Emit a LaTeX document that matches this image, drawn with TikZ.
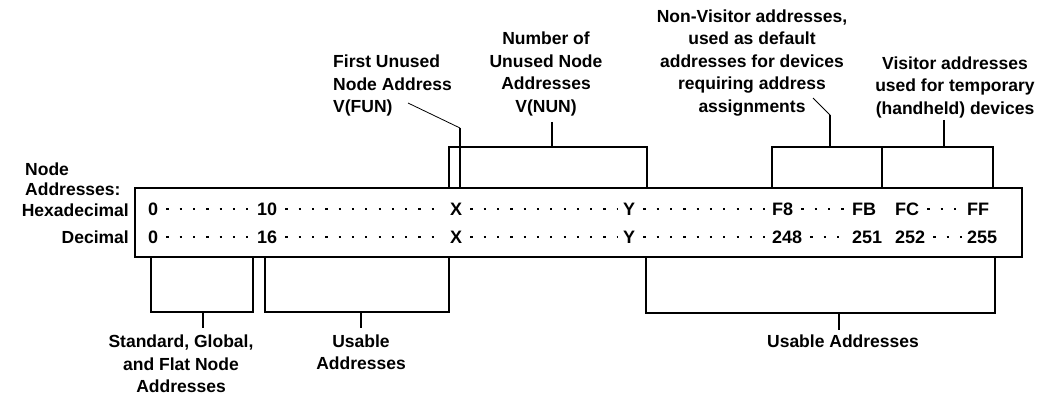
\documentclass[tikz,border=0pt]{standalone}
\usepackage{fontspec}
\setmainfont{Liberation Sans}
\begin{document}
\begin{tikzpicture}[x=1pt,y=-1pt,
  txt/.style={font=\bfseries\fontsize{17.5}{22.5}\selectfont, inner sep=0pt, align=center},
  num/.style={font=\bfseries\fontsize{18}{20}\selectfont, inner sep=0pt, anchor=west},
  ln/.style={line width=1.3pt},
  thinln/.style={line width=0.8pt},
  dotrow/.style={line width=2.2pt, dash pattern=on 2.2pt off 11.1pt, shorten <=8pt, shorten >=5pt}]
\useasboundingbox (0,0) rectangle (1050,395);

% main box
\node (box) [draw, ln, anchor=north west, minimum width=887pt, minimum height=69pt, inner sep=0pt, outer sep=0pt] at (135,188) {};

% left labels
\node (nodeaddr) [txt, font=\bfseries\fontsize{17.5}{20}\selectfont, align=left, anchor=west] at (25,179) {Node\\Addresses:};
\node (hexlab) [txt, anchor=east] at (129,210) {Hexadecimal};
\node (declab) [txt, anchor=east] at (129,237) {Decimal};

% hex row
\node (h0)  [num] at (148,209) {0};
\node (h10) [num] at (257,209) {10};
\node (hX)  [num] at (450,209) {X};
\node (hY)  [num] at (623,209) {Y};
\node (hF8) [num] at (772,209) {F8};
\node (hFB) [num] at (852,209) {FB};
\node (hFC) [num] at (895,209) {FC};
\node (hFF) [num] at (967,209) {FF};
% decimal row
\node (d0)   [num] at (148,237) {0};
\node (d16)  [num] at (257,237) {16};
\node (dX)   [num] at (450,237) {X};
\node (dY)   [num] at (623,237) {Y};
\node (d248) [num] at (772,237) {248};
\node (d251) [num] at (852,237) {251};
\node (d252) [num] at (895,237) {252};
\node (d255) [num] at (967,237) {255};

\draw[dotrow] (h0.east) -- (h10.west);
\draw[dotrow] (h10.east) -- (hX.west);
\draw[dotrow] (hX.east) -- (hY.west);
\draw[dotrow] (hY.east) -- (hF8.west);
\draw[dotrow] (hF8.east) -- (hFB.west);
\draw[dotrow] (hFC.east) -- (hFF.west);
\draw[dotrow] (d0.east) -- (d16.west);
\draw[dotrow] (d16.east) -- (dX.west);
\draw[dotrow] (dX.east) -- (dY.west);
\draw[dotrow] (dY.east) -- (d248.west);
\draw[dotrow] (d248.east) -- (d251.west);
\draw[dotrow] (d252.east) -- (d255.west);

% top labels
\node (fun) [txt, align=left, anchor=west] at (333,85.5) {First Unused\\Node Address\\V(FUN)};
\node (nun) [txt] at (546,74) {Number of\\Unused Node\\Addresses\\V(NUN)};
\node (nonvis) [txt] at (752,63) {Non-Visitor addresses,\\used as default\\addresses for devices\\requiring address\\assignments};
\node (vis) [txt] at (955,87) {Visitor addresses\\used for temporary\\(handheld) devices};

% FUN pointer
\coordinate (funA) at (408,103);
\coordinate (funB) at (460,128);
\draw[thinln] (funA) -- (funB);
\draw[ln] (funB) -- (funB |- box.north);

% NUN bracket
\coordinate (nunL) at (449,147);
\coordinate (nunR) at (647,147);
\coordinate (nunS) at (552,122);
\draw[ln] (nunL |- box.north) -- (nunL) -- (nunR) -- (nunR |- box.north);
\draw[ln] (nunS) -- (nunS |- nunL);

% visitor brackets
\coordinate (vL) at (772,147);
\coordinate (vM) at (882,147);
\coordinate (vR) at (993,147);
\draw[ln] (vL |- box.north) -- (vL) -- (vR) -- (vR |- box.north);
\draw[ln] (vM) -- (vM |- box.north);
\coordinate (nvA) at (813,98);
\coordinate (nvB) at (830,115);
\draw[thinln] (nvA) -- (nvB);
\draw[ln] (nvB) -- (nvB |- vL);
\coordinate (visS) at (944,120);
\draw[ln] (visS) -- (visS |- vL);

% bottom labels
\node (std) [txt] at (181,364) {Standard, Global,\\and Flat Node\\Addresses};
\node (usable) [txt] at (361,352) {Usable\\Addresses};
\node (usable2) [txt] at (843,341) {Usable Addresses};

% bottom brackets
\coordinate (b1L) at (151,312);
\coordinate (b1R) at (253,312);
\coordinate (b1S) at (203,328);
\draw[ln] (b1L |- box.south) -- (b1L) -- (b1R) -- (b1R |- box.south);
\draw[ln] (b1S) -- (b1S |- b1L);
\coordinate (b2L) at (265,312);
\coordinate (b2R) at (449,312);
\coordinate (b2S) at (361,328);
\draw[ln] (b2L |- box.south) -- (b2L) -- (b2R) -- (b2R |- box.south);
\draw[ln] (b2S) -- (b2S |- b2L);
\coordinate (b3L) at (646,313);
\coordinate (b3R) at (995,313);
\coordinate (b3S) at (839,330);
\draw[ln] (b3L |- box.south) -- (b3L) -- (b3R) -- (b3R |- box.south);
\draw[ln] (b3S) -- (b3S |- b3L);
\end{tikzpicture}
\end{document}
